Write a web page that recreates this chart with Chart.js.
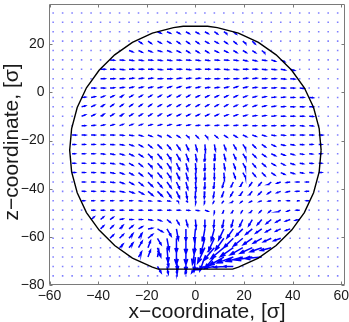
<!DOCTYPE html>
<html>
<head>
<meta charset="utf-8">
<script src="https://cdn.jsdelivr.net/npm/chart.js@4.4.1/dist/chart.umd.min.js"></script>
<style>
  html, body { margin: 0; padding: 0; background: #fff; }
  #wrap { width: 349px; height: 322px; }
</style>
</head>
<body>
<div id="wrap"><canvas id="quiverChart" width="349" height="322"></canvas></div>
<script>
// axis ticks
const X_TICKS = [-60, -40, -20, 0, 20, 40, 60];
const Z_TICKS = [-80, -60, -40, -20, 0, 20];

// sampling grid of the velocity field [sigma]
const GRID_X = [-58.5, -54.6, -50.7, -46.8, -42.9, -39, -35.1, -31.2, -27.3, -23.4, -19.5,
  -15.6, -11.7, -7.8, -3.9, 0, 3.9, 7.8, 11.7, 15.6, 19.5, 23.4, 27.3, 31.2, 35.1, 39,
  42.9, 46.8, 50.7, 54.6, 58.5];
const GRID_Z = [33, 29.1, 25.2, 21.3, 17.4, 13.5, 9.6, 5.7, 1.8, -2.1, -6, -9.9, -13.8,
  -17.7, -21.6, -25.5, -29.4, -33.3, -37.2, -41.1, -45, -48.9, -52.8, -56.7, -60.6,
  -64.5, -68.4, -72.3, -76.2];

// first grid column that carries a vector, per row (null = no vectors)
const ROW_FIRST = [null, null, 11, 9, 8, 6, 5, 5, 4, 3, 3, 3, 3, 2, 2, 2, 2, 2, 3, 3, 3, 4, 4, 5, 6, 7, 9, 11, null];

// vector direction per row [deg, 0 = +x, 90 = +z]
const ARROW_ANGLE = [
  [],
  [],
  [-25, -25, -30, -30, -30, -30, -35, -35, -40],
  [-35, -35, -30, -30, -35, -35, -35, -30, -30, -35, -40, -40, -45],
  [-20, -25, -20, -15, -20, -25, -30, -30, -30, -25, -25, -30, -30, -35, -40],
  [-5, -5, -10, -10, -5, -10, -10, -5, -5, -10, -10, -5, -5, -10, -15, -15, -10, -20, -25],
  [0, 0, -5, 0, 0, 0, -5, 0, 0, -5, 0, 0, 0, -5, -5, 0, 0, -5, -5, -10, -15],
  [0, 0, 0, 5, 5, 5, 0, 0, 5, 5, 5, 0, 0, 0, 0, 5, 5, 0, 0, -5, -5],
  [0, 0, 5, 10, 15, 15, 15, 15, 20, 20, 15, 15, 10, 10, 15, 20, 15, 10, 5, 5, 0, 0, -5],
  [5, 10, 20, 25, 30, 30, 30, 30, 30, 30, 30, 30, 25, 25, 25, 25, 25, 20, 15, 10, 5, 5, 0, 0, -5],
  [15, 25, 30, 35, 35, 35, 35, 35, 30, 30, 30, 30, 30, 30, 30, 30, 25, 25, 20, 15, 10, 5, 0, 0, 0],
  [20, 25, 30, 30, 30, 30, 30, 30, 30, 25, 25, 25, 25, 25, 25, 20, 20, 15, 10, 10, 5, 0, 0, 0, -5],
  [0, 5, 10, 15, 20, 20, 20, 15, 15, 15, 10, 10, 5, 5, 5, 5, 5, 5, 0, 0, 0, 0, 0, -5, -5],
  [0, 0, 0, 0, 0, -5, -10, -15, -20, -25, -30, -35, -40, -45, -45, -40, -35, -30, -25, -20, -15, -10, -5, 0, 0, 0, 0],
  [0, 0, 0, 0, -5, -10, -20, -30, -40, -45, -50, -55, -65, -75, -85, -80, -70, -60, -55, -45, -35, -25, -15, -10, -5, 0, 0],
  [0, 0, 0, -5, -10, -15, -25, -35, -45, -50, -55, -60, -70, -80, -90, -85, -75, -65, -55, -45, -35, -25, -20, -15, -10, -5, 0],
  [0, 0, 0, -5, -10, -20, -30, -40, -45, -50, -55, -65, -75, -85, -90, -90, -80, -70, -60, -50, -40, -30, -25, -20, -10, -5, 0],
  [0, 0, 0, -5, -10, -20, -30, -40, -45, -50, -55, -65, -75, -85, -90, -90, -85, -70, -60, -50, -45, -35, -25, -15, -10, -5, 0],
  [0, 0, -5, -10, -20, -30, -40, -45, -50, -55, -65, -75, -85, -90, -95, -105, -115, -120, -125, -130, -140, -160, -170, 180, 180],
  [0, 0, 0, -5, -10, -20, -30, -40, -45, -55, -65, -80, -90, -95, -100, -110, -120, -125, -130, -135, -145, -160, -170, 180, 180],
  [0, 0, 0, 0, 0, 0, -5, -5, -10, -10, -20, -40, -80, -100, -120, -130, -135, -140, -150, -160, -170, 180, 180, 180, 180],
  [0, 0, 0, 0, 0, 0, 0, 0, 0, 0, -5, -10, -20, -90, -110, -120, -125, -130, -135, -140, -150, -160, 180],
  [40, 40, 35, 10, 0, 0, -10, -20, -40, -60, -75, -85, -90, -95, -100, -105, -115, -120, -130, -140, -150, -160, -170],
  [45, 45, 45, 40, 30, 10, -30, -60, -80, -90, -95, -100, -105, -115, -125, -135, -140, -145, -150, -155, -160],
  [45, 45, 50, 55, 40, -60, -80, -90, -90, -95, -105, -115, -125, -135, -140, -145, -150, -155, -160],
  [45, 50, 60, 70, -70, -85, -90, -90, -100, -115, -130, -140, -145, -150, -155, -160, -165],
  [60, 70, 80, -80, -85, -90, -95, -110, -130, -150, -160, -165, -170, -175],
  [-60, -80, -85, -90, -120, -160, -170, -175, 180],
  []
];

// drawn vector length per row [sigma], one value for the whole row or one per vector
const ARROW_LEN = [
  0, 0, 1.5, 1.6, 1.6, 1.7, 1.8, 1.8, 1.7, 1.6, 1.6, 1.6, 1.5, 1.6,
  [1.2, 1.3, 1.4, 1.5, 1.5, 1.6, 1.7, 1.8, 2.0, 2.2, 2.4, 2.6, 2.6, 2.6, 2.6, 2.5, 2.4, 2.2, 2.0, 1.9, 1.8, 1.7, 1.6, 1.5, 1.4, 1.3, 1.2],
  [1.2, 1.3, 1.4, 1.5, 1.6, 1.7, 1.8, 2.0, 2.3, 2.6, 2.8, 3.0, 3.0, 3.0, 3.0, 2.8, 2.6, 2.4, 2.2, 2.0, 1.9, 1.8, 1.7, 1.6, 1.4, 1.3, 1.2],
  [1.2, 1.3, 1.4, 1.5, 1.6, 1.7, 1.8, 2.0, 2.3, 2.6, 2.8, 3.0, 3.0, 3.0, 3.0, 2.8, 2.6, 2.4, 2.2, 2.0, 1.9, 1.8, 1.7, 1.6, 1.4, 1.3, 1.2],
  [1.2, 1.3, 1.4, 1.5, 1.6, 1.7, 1.8, 2.0, 2.3, 2.6, 2.8, 3.0, 3.0, 3.0, 3.0, 2.8, 2.6, 2.4, 2.2, 2.0, 1.9, 1.8, 1.7, 1.6, 1.4, 1.3, 1.2],
  [1.3, 1.4, 1.5, 1.6, 1.8, 2.0, 2.3, 2.6, 2.8, 3.0, 3.0, 3.0, 3.0, 2.8, 2.6, 2.4, 2.2, 2.0, 1.9, 1.8, 1.7, 1.6, 1.5, 1.4, 1.3],
  [1.3, 1.4, 1.5, 1.6, 1.8, 2.0, 2.3, 2.6, 2.8, 3.0, 3.0, 3.0, 3.0, 2.8, 2.6, 2.4, 2.2, 2.0, 1.9, 1.8, 1.7, 1.6, 1.5, 1.4, 1.3],
  1.1, 1.3,
  [1.6, 1.6, 1.6, 1.4, 1.4, 1.4, 1.6, 1.6, 1.8, 2.2, 2.8, 3.2, 3.4, 3.4, 3.4, 3.2, 3.2, 3.0, 2.8, 2.6, 2.2, 2.0, 1.8],
  [1.8, 1.8, 2.0, 2.0, 1.8, 1.8, 2.4, 3.4, 4.5, 5, 5, 5, 5, 5, 4.5, 4, 3.5, 3, 2.5, 2.2, 2],
  [2, 2.2, 2.5, 2.5, 2.5, 3, 5, 6, 6.5, 6.5, 6.5, 6, 6, 5.5, 5, 4.5, 4, 3.5, 3],
  [2, 2.5, 3, 3, 4, 6, 7, 7, 7, 7, 7, 7, 6.5, 6, 5.5, 5, 4.5],
  [2.5, 3, 3, 4, 5.5, 6, 6, 6, 6, 7, 7, 7, 7, 7],
  [3, 3, 3, 3, 3, 4, 4, 4, 4],
  0
];

// droplet outline [sigma]
const OUTLINE_X = [51.7, 50.9, 48.6, 44.8, 39.6, 33.2, 25.9, 17.7, 9.0, 5, -5, -9.0, -17.7,
  -25.9, -33.2, -39.6, -44.8, -48.6, -50.9, -51.7, -50.9, -48.6, -44.8, -39.6, -33.2, -25.9,
  -17.7, -15.3, 15.3, 17.7, 25.9, 33.2, 39.6, 44.8, 48.6, 50.9, 51.7];
const OUTLINE_Z = [-24, -15.0, -6.3, 1.9, 9.2, 15.6, 20.8, 24.6, 26.9, 27.5, 27.5, 26.9, 24.6,
  20.8, 15.6, 9.2, 1.9, -6.3, -15.0, -24, -33.0, -41.7, -49.9, -57.2, -63.6, -68.8, -72.6,
  -73.4, -73.4, -72.6, -68.8, -63.6, -57.2, -49.9, -41.7, -33.0, -24];

const HEAD = 0.33;
const FONT = "'Liberation Sans', Arial, Helvetica, sans-serif";

const dotPoints = [];
const quiverPoints = [];
GRID_Z.forEach((z, j) => {
  const first = ROW_FIRST[j];
  const angles = ARROW_ANGLE[j];
  GRID_X.forEach((x, i) => {
    const k = first === null ? -1 : i - first;
    if (k < 0 || k >= angles.length) {
      dotPoints.push({ x, y: z });
      return;
    }
    const rad = angles[k] * Math.PI / 180;
    const len = Array.isArray(ARROW_LEN[j]) ? ARROW_LEN[j][k] : ARROW_LEN[j];
    const u = len * Math.cos(rad);
    const v = len * Math.sin(rad);
    const tx = x + u;
    const tz = z + v;
    quiverPoints.push(
      { x, y: z }, { x: tx, y: tz }, { x: tx, y: null },
      { x: tx - HEAD * (u + HEAD * v), y: tz - HEAD * (v - HEAD * u) },
      { x: tx, y: tz },
      { x: tx - HEAD * (u - HEAD * v), y: tz - HEAD * (v + HEAD * u) },
      { x: tx, y: null }
    );
  });
});

const outlinePoints = OUTLINE_X.map((x, i) => ({ x, y: OUTLINE_Z[i] }));

// box, inward ticks, tick labels and axis titles
const axesPlugin = {
  id: "axesBox",
  afterDatasetsDraw(chart) {
    const { ctx, chartArea: area, scales } = chart;
    const xs = scales.x;
    const ys = scales.y;
    const left = Math.round(area.left) - 0.5;
    const right = Math.round(area.right) - 0.5;
    const top = Math.round(area.top) + 0.5;
    const bottom = Math.round(area.bottom) - 0.5;
    ctx.save();
    ctx.strokeStyle = "#7a7a7a";
    ctx.lineWidth = 1;
    ctx.beginPath();
    ctx.rect(left, top, right - left, bottom - top);
    X_TICKS.forEach((t) => {
      const px = Math.round(xs.getPixelForValue(t)) + 0.5;
      ctx.moveTo(px, bottom); ctx.lineTo(px, bottom - 3);
      ctx.moveTo(px, top); ctx.lineTo(px, top + 3);
    });
    Z_TICKS.forEach((t) => {
      const py = Math.round(ys.getPixelForValue(t)) + 0.5;
      ctx.moveTo(left, py); ctx.lineTo(left + 3, py);
      ctx.moveTo(right, py); ctx.lineTo(right - 3, py);
    });
    ctx.stroke();

    ctx.fillStyle = "#1a1a1a";
    ctx.font = `14px ${FONT}`;
    ctx.textAlign = "center";
    ctx.textBaseline = "middle";
    X_TICKS.forEach((t) => {
      ctx.fillText(String(t).replace("-", "\u2212"), xs.getPixelForValue(t), bottom + 12);
    });
    ctx.textAlign = "right";
    Z_TICKS.forEach((t) => {
      ctx.fillText(String(t).replace("-", "\u2212"), left - 5, ys.getPixelForValue(t));
    });

    ctx.font = `21px ${FONT}`;
    ctx.textAlign = "center";
    ctx.fillText("x\u2212coordinate, [\u03c3]", 207, 312);
    ctx.translate(12, 142);
    ctx.rotate(-Math.PI / 2);
    ctx.fillText("z\u2212coordinate, [\u03c3]", 0, 0);
    ctx.restore();
  }
};

new Chart(document.getElementById("quiverChart"), {
  type: "scatter",
  data: {
    datasets: [
      {
        type: "line",
        data: outlinePoints,
        borderColor: "#000000",
        borderWidth: 1.4,
        pointRadius: 0,
        tension: 0,
        fill: false,
        order: 0
      },
      {
        type: "line",
        data: quiverPoints,
        borderColor: "#0000ff",
        borderWidth: 1.5,
        pointRadius: 0,
        spanGaps: false,
        tension: 0,
        fill: false,
        order: 1
      },
      {
        type: "scatter",
        data: dotPoints,
        pointStyle: "rect",
        pointRadius: 1.1,
        borderWidth: 0,
        backgroundColor: "rgba(40, 40, 255, 0.6)",
        order: 2
      }
    ]
  },
  options: {
    responsive: false,
    animation: false,
    devicePixelRatio: 1,
    layout: { padding: { left: 49.5, right: 3.3, top: 0.5, bottom: 37 } },
    plugins: { legend: { display: false }, tooltip: { enabled: false } },
    scales: {
      x: { type: "linear", display: false, min: -60, max: 61.52 },
      y: { type: "linear", display: false, min: -80, max: 36.72 }
    }
  },
  plugins: [axesPlugin]
});
</script>
</body>
</html>
